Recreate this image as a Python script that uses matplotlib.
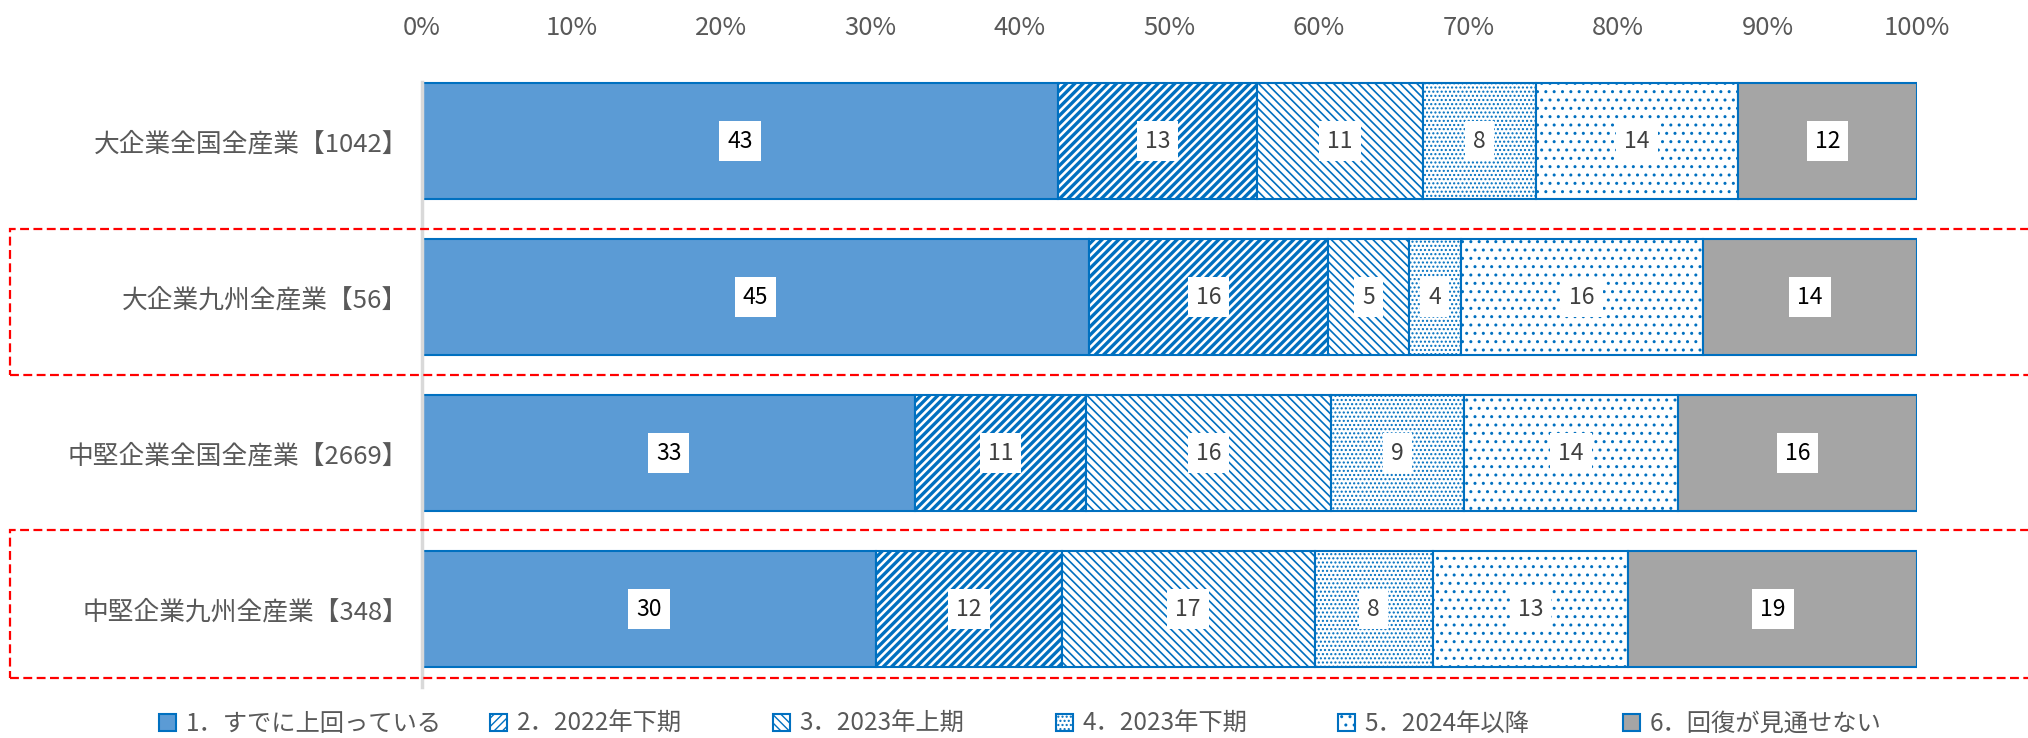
import matplotlib
matplotlib.use("Agg")
import matplotlib.pyplot as plt
from matplotlib.patches import Rectangle, Patch
import numpy as np

plt.rcParams['font.family'] = ['Noto Sans CJK JP', 'DejaVu Sans']

categories = ['大企業全国全産業【1042】', '大企業九州全産業【56】',
              '中堅企業全国全産業【2669】', '中堅企業九州全産業【348】']
series_names = ['1．すでに上回っている', '2．2022年下期', '3．2023年上期',
                '4．2023年下期', '5．2024年以降', '6．回復が見通せない']

# estimated shares (labels are the rounded values)
s1 = [42.6, 44.6, 33.0, 30.4]
s2 = [13.3, 16.0, 11.4, 12.4]
s3 = [11.1, 5.4, 16.4, 16.9]
s4 = [7.6, 3.5, 8.9, 7.9]
s5 = [13.5, 16.2, 14.3, 13.1]
s6 = [12.0, 14.3, 16.0, 19.3]
series = [s1, s2, s3, s4, s5, s6]

blue = '#0070C0'
fills = ['#5B9BD5', 'white', 'white', 'white', 'white', '#A5A5A5']
hatches = [None, '////', '\\\\\\\\', '....', '..', None]
hatch_lw = [1.0, 2.4, 1.2, 1.0, 1.0, 1.0]
label_colors = ['black', '#404040', '#404040', '#404040', '#404040', 'black']

fig = plt.figure(figsize=(20.28, 7.38), dpi=100)
W, H = 2028, 738
ax = fig.add_axes([422 / W, 1 - 687 / H, (1917 - 422) / W, (687 - 63) / H])

y = np.arange(len(categories))
data = np.array(series, dtype=float)
totals = data.sum(axis=0)
left = np.zeros(len(categories))
handles = []
for i, vals in enumerate(data):
    pct = vals / totals * 100
    plt.rcParams['hatch.linewidth'] = hatch_lw[i]
    bars = ax.barh(y, pct, left=left, height=0.74, color=fills[i],
                   edgecolor=blue, linewidth=1.5, hatch=hatches[i])
    for b, v in zip(bars, vals):
        ax.text(b.get_x() + b.get_width() / 2, b.get_y() + b.get_height() / 2,
                f'{v:.0f}', ha='center', va='center', fontsize=16.5,
                color=label_colors[i],
                bbox=dict(boxstyle='square,pad=0.35', fc='white', ec='none'))
    handles.append(Patch(facecolor=fills[i], edgecolor=blue, hatch=hatches[i],
                         linewidth=1.5))
    left += pct

ax.set_xlim(0, 100)
ax.set_ylim(3.5, -0.5)
ax.set_yticks(y)
ax.set_yticklabels(categories, fontsize=18.5, color='#595959')
ax.set_xticks(np.arange(0, 101, 10))
ax.set_xticklabels([f'{t}%' for t in range(0, 101, 10)], fontsize=18.5, color='#595959')
ax.xaxis.tick_top()
ax.tick_params(axis='y', length=0, pad=10)
ax.tick_params(axis='x', length=0, pad=16)
for s in ['top', 'right', 'bottom']:
    ax.spines[s].set_visible(False)
ax.spines['left'].set_color('#D9D9D9')
ax.spines['left'].set_linewidth(2.5)
ax.spines['left'].set_bounds(3.5, -0.38)

# red dashed boxes around the Kyushu rows
for top, bot in [(229, 375), (530, 678)]:
    fig.patches.append(Rectangle((10 / W, 1 - bot / H), 2030 / W, (bot - top) / H,
                                 transform=fig.transFigure, fill=False,
                                 edgecolor='red', linestyle=(0, (4, 2)), linewidth=1.6))

# legend entries placed one by one, like the Excel legend
legend_x = [159, 490, 773, 1056, 1338, 1623]
for h, name, lx in zip(handles, series_names, legend_x):
    leg = fig.legend([h], [name], loc='center left', bbox_to_anchor=(lx / W, 1 - 724 / H),
                     frameon=False, fontsize=17.5, handlelength=0.7, handleheight=0.7,
                     handletextpad=0.4, borderpad=0, borderaxespad=0,
                     labelcolor='#595959')

fig.savefig('out.png', dpi=100)
